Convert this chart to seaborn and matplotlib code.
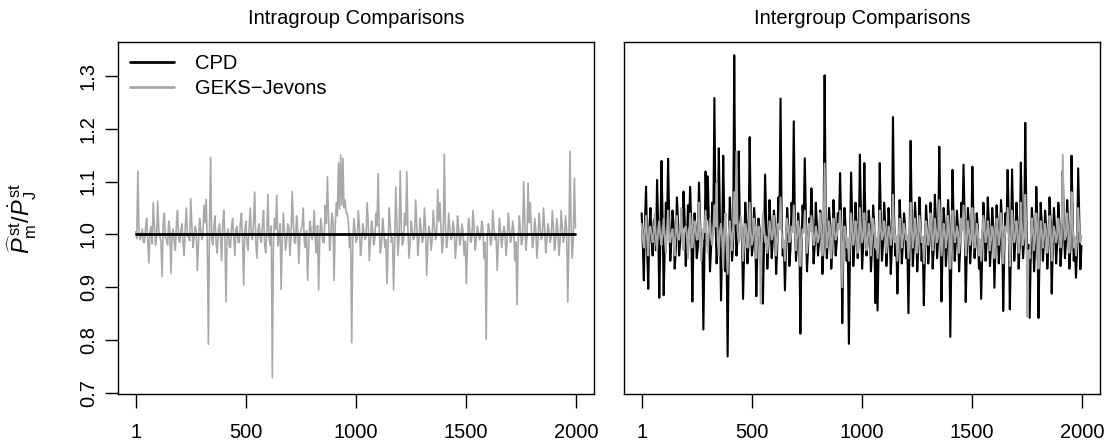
import numpy as np
import pandas as pd
import matplotlib
matplotlib.use("Agg")
import matplotlib.pyplot as plt
import seaborn as sns
from matplotlib.lines import Line2D

# === 데이터 ===
# a: 1, 11, 21, ... 위치의 값 (스파이크 포함), b: 6, 16, 26, ... 위치의 값 (중심 밴드)
obs_a = np.arange(1, 2001, 10)
obs_b = np.arange(6, 2001, 10)

geks_intra_a = [
    1.005, 1.120, 0.990, 1.010, 0.985, 1.030, 0.946, 1.015, 1.060, 0.980,
    1.063, 0.995, 0.920, 1.040, 0.990, 1.025, 0.926, 1.010, 0.970, 1.045,
    0.985, 1.020, 0.960, 1.050, 0.995, 1.068, 0.975, 1.015, 0.932, 1.030,
    0.990, 1.055, 1.066, 0.792, 1.146, 0.980, 1.035, 0.965, 1.020, 0.950,
    1.045, 0.872, 1.010, 0.975, 1.030, 0.960, 1.015, 0.985, 1.040, 0.904,
    1.025, 0.970, 1.050, 0.990, 1.080, 0.955, 1.020, 0.985, 1.045, 0.965,
    1.076, 0.980, 0.729, 1.030, 1.074, 0.990, 0.896, 1.040, 0.970, 1.020,
    0.960, 1.081, 0.985, 1.035, 0.945, 1.010, 1.050, 0.975, 0.913, 1.025,
    0.990, 1.045, 0.965, 0.895, 1.030, 0.985, 1.055, 1.109, 0.970, 1.040,
    0.913, 1.060, 1.135, 1.150, 1.144, 1.065, 1.040, 0.975, 0.795, 1.030,
    0.985, 1.045, 0.960, 1.020, 0.990, 1.060, 0.950, 1.025, 0.980, 1.040,
    1.115, 0.965, 1.030, 0.975, 0.907, 1.050, 0.985, 0.895, 1.090, 0.960,
    1.120, 0.980, 1.040, 1.119, 0.955, 1.025, 0.990, 1.065, 0.960, 1.030,
    0.985, 1.050, 0.923, 1.015, 0.970, 1.045, 0.990, 1.085, 1.060, 0.965,
    1.152, 0.975, 1.040, 0.990, 1.025, 0.955, 1.035, 0.980, 1.020, 0.960,
    0.907, 1.030, 0.985, 1.045, 0.970, 1.015, 0.990, 1.025, 0.955, 0.801,
    1.020, 0.980, 1.045, 0.990, 0.932, 1.030, 0.975, 1.015, 0.960, 1.040,
    0.985, 1.025, 0.950, 0.867, 1.035, 0.980, 1.100, 0.970, 1.097, 1.060,
    0.975, 1.030, 0.955, 1.040, 0.990, 1.050, 0.965, 1.020, 0.985, 1.045,
    0.970, 1.030, 0.960, 1.045, 0.985, 1.035, 0.872, 1.157, 0.955, 1.106,
]
geks_intra_b = [
    0.992, 1.010, 0.996, 0.985, 1.012, 0.990, 1.004, 0.982, 1.015, 0.995,
    1.008, 0.987, 1.018, 0.994, 0.980, 1.011, 0.998, 0.986, 1.020, 0.991,
    1.006, 0.983, 1.013, 0.997, 0.988, 1.016, 0.993, 1.005, 0.984, 1.012,
    0.996, 1.022, 0.986, 1.009, 0.991, 1.014, 0.982, 1.007, 0.995, 1.017,
    0.989, 1.003, 0.978, 1.015, 0.994, 1.010, 0.985, 1.021, 0.992, 1.006,
    0.984, 1.013, 0.997, 1.025, 0.987, 1.008, 0.993, 1.018, 0.981, 1.004,
    0.995, 1.016, 0.986, 1.010, 0.978, 1.020, 0.992, 1.005, 0.988, 1.013,
    0.997, 1.024, 0.983, 1.009, 0.994, 1.015, 0.986, 1.007, 0.979, 1.012,
    1.003, 0.988, 1.017, 0.993, 1.009, 0.984, 1.021, 1.030, 0.996, 1.028,
    1.012, 1.035, 1.048, 1.055, 1.050, 1.040, 1.022, 0.996, 0.985, 1.008,
    0.991, 1.014, 0.983, 1.006, 0.995, 1.019, 0.987, 1.010, 0.992, 1.016,
    1.005, 0.982, 1.012, 0.990, 0.978, 1.015, 0.994, 0.985, 1.020, 0.997,
    1.011, 0.989, 1.017, 1.008, 0.984, 1.006, 0.996, 1.021, 0.988, 1.009,
    0.993, 1.014, 0.981, 1.004, 0.990, 1.018, 0.997, 1.025, 1.012, 0.986,
    1.016, 0.992, 1.010, 0.995, 1.007, 0.983, 1.012, 0.991, 1.005, 0.987,
    0.980, 1.009, 0.994, 1.015, 0.989, 1.004, 0.996, 1.011, 0.985, 0.992,
    1.007, 0.990, 1.014, 0.997, 0.984, 1.010, 0.993, 1.005, 0.988, 1.012,
    0.995, 1.008, 0.986, 0.980, 1.012, 0.991, 1.025, 0.994, 1.022, 1.010,
    0.992, 1.010, 0.985, 1.013, 0.997, 1.016, 0.989, 1.006, 0.995, 1.012,
    0.990, 1.008, 0.986, 1.014, 0.996, 1.009, 0.980, 1.020, 0.990, 1.012,
]

cpd_inter_a = [
    1.040, 0.913, 1.090, 0.897, 1.050, 0.960, 1.030, 1.103, 0.880, 1.139,
    0.885, 1.060, 1.143, 0.950, 1.045, 0.935, 1.070, 0.960, 1.035, 1.081,
    0.940, 1.055, 1.090, 0.873, 1.040, 0.955, 1.098, 0.965, 0.820, 1.119,
    1.110, 0.930, 1.060, 1.258, 0.945, 1.163, 0.875, 1.149, 0.930, 0.769,
    1.070, 0.950, 1.339, 0.960, 1.157, 1.020, 0.878, 1.060, 0.945, 1.184,
    0.960, 1.050, 0.883, 1.030, 0.950, 0.869, 1.113, 0.935, 1.065, 0.955,
    1.045, 0.925, 1.070, 1.257, 0.960, 0.894, 1.050, 0.940, 1.060, 1.214,
    0.950, 1.040, 0.812, 1.055, 1.144, 0.930, 1.030, 1.087, 0.945, 1.060,
    0.960, 1.045, 0.925, 1.301, 0.955, 1.050, 0.935, 1.065, 0.960, 1.040,
    1.116, 0.832, 1.050, 0.950, 0.793, 1.117, 0.940, 1.060, 0.955, 1.151,
    0.935, 1.135, 0.960, 1.045, 0.930, 1.055, 0.870, 0.856, 1.135, 0.950,
    1.060, 0.940, 1.050, 0.925, 1.222, 0.960, 0.888, 1.065, 0.945, 1.040,
    0.955, 0.851, 1.177, 0.940, 1.060, 0.930, 1.070, 0.950, 0.866, 1.055,
    0.945, 1.060, 0.935, 1.075, 0.955, 1.166, 0.873, 1.050, 0.940, 1.065,
    0.806, 1.122, 0.950, 1.045, 0.930, 1.060, 1.132, 0.872, 1.050, 0.945,
    1.128, 0.955, 1.040, 0.935, 0.878, 1.060, 0.950, 1.070, 0.940, 1.050,
    0.899, 1.055, 0.945, 1.065, 0.855, 1.040, 1.122, 0.858, 1.123, 0.950,
    1.060, 0.935, 1.136, 0.955, 1.211, 0.945, 0.842, 1.050, 0.930, 1.090,
    0.842, 1.060, 0.950, 1.045, 0.935, 1.070, 0.888, 1.050, 0.945, 1.060,
    0.940, 1.120, 0.955, 1.065, 0.935, 1.149, 0.950, 0.918, 1.125, 0.934,
]
cpd_inter_b = [
    0.985, 1.020, 0.975, 1.012, 0.990, 1.025, 0.970, 1.015, 0.995, 1.030,
    0.980, 1.010, 1.028, 0.990, 1.018, 0.972, 1.022, 0.985, 1.012, 1.030,
    0.978, 1.015, 1.020, 0.985, 1.010, 0.975, 1.025, 0.990, 0.968, 1.028,
    1.020, 0.975, 1.018, 1.035, 0.982, 1.030, 0.970, 1.022, 0.985, 0.975,
    1.015, 0.980, 1.040, 0.990, 1.030, 1.005, 0.972, 1.020, 0.985, 1.028,
    0.980, 1.018, 0.972, 1.010, 0.985, 0.978, 1.025, 0.982, 1.015, 0.990,
    1.018, 0.975, 1.022, 1.030, 0.985, 0.978, 1.015, 0.972, 1.020, 1.025,
    0.985, 1.012, 0.970, 1.020, 1.030, 0.978, 1.010, 1.022, 0.980, 1.018,
    0.988, 1.015, 0.975, 1.035, 0.990, 1.020, 0.972, 1.025, 0.985, 1.012,
    1.025, 0.975, 1.015, 0.982, 0.970, 1.028, 0.980, 1.018, 0.990, 1.030,
    0.978, 1.025, 0.985, 1.015, 0.975, 1.020, 0.968, 0.972, 1.030, 0.985,
    1.018, 0.980, 1.012, 0.975, 1.035, 0.988, 0.970, 1.022, 0.982, 1.015,
    0.985, 0.972, 1.030, 0.980, 1.018, 0.975, 1.022, 0.988, 0.970, 1.015,
    0.982, 1.020, 0.975, 1.025, 0.990, 1.030, 0.972, 1.015, 0.980, 1.020,
    0.965, 1.028, 0.985, 1.012, 0.975, 1.020, 1.030, 0.970, 1.015, 0.982,
    1.030, 0.985, 1.012, 0.978, 0.970, 1.018, 0.985, 1.022, 0.980, 1.015,
    0.975, 1.018, 0.985, 1.020, 0.970, 1.012, 1.030, 0.968, 1.028, 0.985,
    1.020, 0.978, 1.030, 0.988, 1.035, 0.980, 0.965, 1.015, 0.975, 1.022,
    0.968, 1.018, 0.985, 1.012, 0.978, 1.025, 0.975, 1.015, 0.982, 1.020,
    0.978, 1.028, 0.985, 1.018, 0.975, 1.030, 0.982, 0.970, 1.025, 0.978,
]

geks_inter_a = [
    1.020, 0.975, 1.035, 0.960, 1.015, 0.985, 1.040, 0.970, 1.025, 0.980,
    1.030, 0.965, 1.045, 0.985, 1.010, 0.960, 1.035, 0.990, 1.050, 0.970,
    1.015, 0.955, 1.040, 0.975, 1.025, 0.990, 1.060, 0.950, 1.010, 1.045,
    0.965, 1.030, 0.980, 1.055, 1.097, 0.960, 1.020, 0.935, 1.040, 0.925,
    1.025, 0.970, 1.080, 1.157, 0.985, 1.035, 0.950, 1.020, 0.975, 1.060,
    0.980, 1.030, 0.955, 1.015, 0.869, 1.040, 0.985, 0.965, 1.025, 0.990,
    1.035, 0.960, 1.020, 1.070, 0.975, 0.950, 1.030, 0.985, 1.015, 1.055,
    0.970, 1.025, 0.940, 1.010, 1.045, 0.965, 1.020, 1.035, 0.980, 1.015,
    0.985, 1.040, 0.960, 1.134, 0.975, 1.025, 0.955, 1.030, 0.990, 1.020,
    1.045, 0.900, 1.015, 0.975, 0.950, 1.040, 0.980, 1.025, 0.965, 1.050,
    0.985, 1.040, 0.970, 1.020, 0.960, 1.030, 0.975, 0.955, 1.045, 0.990,
    1.025, 0.965, 1.015, 0.980, 1.075, 0.985, 0.950, 1.030, 0.975, 1.020,
    0.990, 0.955, 1.060, 0.975, 1.030, 0.965, 1.035, 0.985, 0.945, 1.025,
    0.980, 1.040, 0.970, 1.030, 0.985, 1.065, 0.960, 1.020, 0.975, 1.035,
    0.935, 1.045, 0.985, 1.015, 0.965, 1.030, 1.055, 0.960, 1.025, 0.980,
    1.050, 0.975, 1.020, 0.960, 0.950, 1.035, 0.985, 1.025, 0.970, 1.015,
    0.955, 1.030, 0.980, 1.040, 0.945, 1.015, 1.050, 0.940, 1.045, 0.985,
    1.025, 0.965, 1.060, 0.980, 1.075, 0.844, 0.955, 1.030, 0.970, 1.040,
    0.935, 1.025, 0.975, 1.020, 0.965, 1.035, 0.950, 1.015, 0.985, 1.030,
    0.975, 1.151, 0.990, 1.040, 0.965, 1.080, 0.975, 0.960, 1.050, 0.985,
]
geks_inter_b = [
    0.995, 1.008, 0.990, 1.012, 0.998, 1.005, 0.988, 1.010, 0.994, 1.006,
    0.992, 1.010, 0.996, 1.004, 0.987, 1.012, 0.993, 1.007, 0.990, 1.011,
    1.003, 0.988, 1.009, 0.995, 1.006, 0.991, 1.013, 0.986, 1.004, 0.997,
    1.010, 0.992, 1.005, 1.015, 0.989, 1.007, 0.994, 1.011, 0.985, 1.002,
    0.996, 1.012, 1.020, 1.008, 0.991, 1.006, 0.987, 1.010, 0.995, 1.004,
    0.990, 1.009, 0.993, 1.002, 0.985, 1.011, 0.996, 0.989, 1.007, 0.998,
    1.006, 0.992, 1.010, 1.005, 0.988, 0.995, 1.008, 0.991, 1.004, 1.012,
    0.994, 1.007, 0.987, 1.003, 1.010, 0.992, 1.006, 1.009, 0.990, 1.002,
    0.996, 1.011, 0.989, 1.020, 0.993, 1.008, 0.990, 1.005, 0.997, 1.010,
    1.006, 0.985, 1.004, 0.993, 0.988, 1.011, 0.995, 1.007, 0.991, 1.012,
    0.997, 1.008, 0.990, 1.005, 0.992, 1.010, 0.994, 0.988, 1.011, 0.998,
    1.007, 0.991, 1.004, 0.995, 1.015, 0.997, 0.987, 1.009, 0.993, 1.005,
    0.998, 0.988, 1.012, 0.994, 1.007, 0.990, 1.010, 0.996, 0.986, 1.006,
    0.995, 1.010, 0.991, 1.008, 0.996, 1.013, 0.989, 1.005, 0.993, 1.009,
    0.985, 1.012, 0.996, 1.004, 0.990, 1.008, 1.011, 0.989, 1.006, 0.994,
    1.010, 0.993, 1.005, 0.990, 0.987, 1.009, 0.996, 1.007, 0.991, 1.004,
    0.989, 1.008, 0.995, 1.010, 0.986, 1.004, 1.012, 0.987, 1.011, 0.996,
    1.006, 0.991, 1.012, 0.996, 1.015, 0.970, 0.990, 1.008, 0.993, 1.010,
    0.985, 1.006, 0.994, 1.005, 0.990, 1.009, 0.988, 1.004, 0.996, 1.008,
    0.994, 1.020, 0.997, 1.009, 0.991, 1.015, 0.995, 0.990, 1.010, 0.997,
]

cpd_intra_level = 1.0
x_ticks = [1, 500, 1000, 1500, 2000]
y_ticks = [0.7, 0.8, 0.9, 1.0, 1.1, 1.2, 1.3]
titles = ["Intragroup Comparisons", "Intergroup Comparisons"]

# === DataFrame (두 위치 집합을 합쳐 정렬) ===
obs = np.concatenate([obs_a, obs_b])
intra = pd.DataFrame({"obs": obs,
                      "GEKS": geks_intra_a + geks_intra_b}).sort_values("obs")
intra["CPD"] = cpd_intra_level
inter = pd.DataFrame({"obs": obs,
                      "CPD": cpd_inter_a + cpd_inter_b,
                      "GEKS": geks_inter_a + geks_inter_b}).sort_values("obs")

# === 스타일 ===
sns.set_style("white")
plt.rcParams["font.family"] = ["Liberation Sans", "DejaVu Sans"]
plt.rcParams["mathtext.fontset"] = "custom"
plt.rcParams["mathtext.rm"] = "Liberation Sans"
plt.rcParams["mathtext.it"] = "Liberation Sans:italic"
for key in ["text.color", "axes.labelcolor", "xtick.color", "ytick.color"]:
    plt.rcParams[key] = "black"
fs = 14.5
grey = "#A9A9A9"

fig = plt.figure(figsize=(11.07, 4.44), dpi=100)
ax1 = fig.add_axes([118 / 1107, 1 - 394 / 444, 476 / 1107, 352 / 444])
ax2 = fig.add_axes([624 / 1107, 1 - 394 / 444, 476 / 1107, 352 / 444])

# 왼쪽: GEKS 먼저, CPD 위에
sns.lineplot(data=intra, x="obs", y="GEKS", ax=ax1, color=grey, linewidth=1.2)
sns.lineplot(data=intra, x="obs", y="CPD", ax=ax1, color="black", linewidth=2.0)
# 오른쪽: CPD 먼저, GEKS 위에
sns.lineplot(data=inter, x="obs", y="CPD", ax=ax2, color="black", linewidth=1.5)
sns.lineplot(data=inter, x="obs", y="GEKS", ax=ax2, color=grey, linewidth=1.4)

for ax, title in zip([ax1, ax2], titles):
    ax.set_xlim(-79, 2080)
    ax.set_ylim(0.698, 1.364)
    ax.set_xticks(x_ticks)
    ax.set_xticklabels([str(t) for t in x_ticks], fontsize=fs)
    ax.set_xlabel("")
    ax.set_ylabel("")
    ax.set_title(title, fontsize=fs, pad=13)
    for s in ax.spines.values():
        s.set_visible(True)
        s.set_color("black")
        s.set_linewidth(1.0)
    ax.tick_params(axis="x", direction="out", length=10, width=1.0, pad=11,
                   bottom=True)

ax1.set_yticks(y_ticks)
ax1.set_yticklabels([f"{t:.1f}" for t in y_ticks], fontsize=fs,
                    rotation=90, va="center")
ax1.tick_params(axis="y", direction="out", length=9.5, width=1.0, pad=5, left=True)
ax2.set_yticks([])

handles = [Line2D([], [], color="black", lw=2.0),
           Line2D([], [], color=grey, lw=2.0)]
ax1.legend(handles, ["CPD", "GEKS\u2212Jevons"], loc="upper left", frameon=False,
           fontsize=fs, handlelength=2.2, handletextpad=1.0, labelspacing=0.3,
           borderaxespad=0.2)

fig.text(22 / 1107, 1 - 218 / 444,
         r"$\widehat{P}^{\,\mathrm{st}}_{\mathrm{m}}/\dot{P}^{\,\mathrm{st}}_{\mathrm{J}}$",
         rotation=90, ha="center", va="center", fontsize=17)

fig.savefig("out.png", dpi=100)
